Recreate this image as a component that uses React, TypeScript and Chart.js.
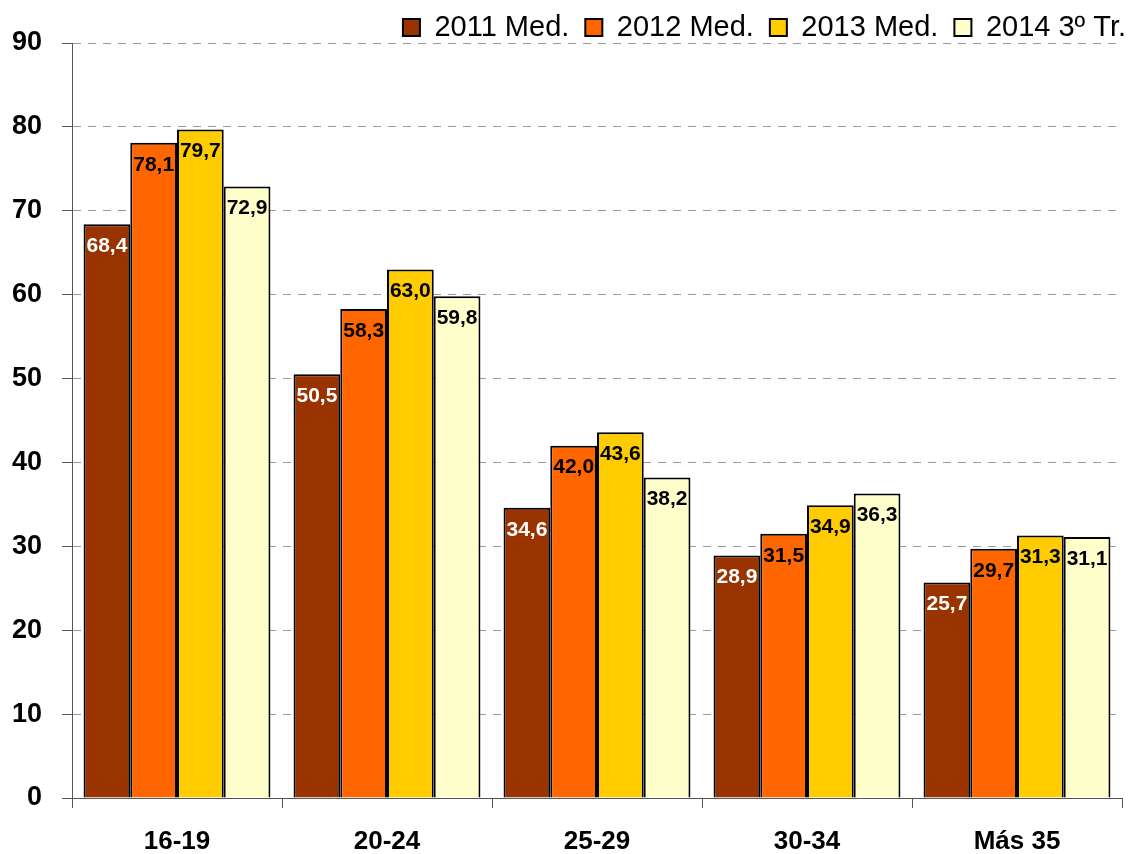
import React, { useEffect, useRef } from "react";
import { Chart, registerables } from "chart.js";

Chart.register(...registerables);

const categories = ["16-19", "20-24", "25-29", "30-34", "Más 35"];
const seriesNames = ["2011 Med.", "2012 Med.", "2013 Med.", "2014 3º Tr."];
const values2011 = [68.4, 50.5, 34.6, 28.9, 25.7];
const values2012 = [78.1, 58.3, 42.0, 31.5, 29.7];
const values2013 = [79.7, 63.0, 43.6, 34.9, 31.3];
const values2014 = [72.9, 59.8, 38.2, 36.3, 31.1];
const seriesColors = ["#993300", "#FF6600", "#FFCC00", "#FFFFCC"];
const labelColors = ["#FFFFFF", "#000000", "#000000", "#000000"];
const yTicks = [0, 10, 20, 30, 40, 50, 60, 70, 80, 90];

const FONT = "'Liberation Sans', Arial, sans-serif";

const legendShift = {
  id: "legendShift",
  afterLayout(chart: any) {
    const l = chart.legend;
    if (!l) return;
    const dx = 20;
    const dy = -3;
    l.left += dx;
    l.right += dx;
    l.top += dy;
    l.bottom += dy;
  },
};

const barLabels = {
  id: "barLabels",
  afterDatasetsDraw(chart: any) {
    const ctx = chart.ctx;
    ctx.save();
    ctx.font = `bold 21px ${FONT}`;
    ctx.textAlign = "center";
    ctx.textBaseline = "middle";
    chart.data.datasets.forEach((ds: any, di: number) => {
      const meta = chart.getDatasetMeta(di);
      meta.data.forEach((bar: any, i: number) => {
        const v = ds.data[i] as number;
        ctx.fillStyle = labelColors[di];
        ctx.fillText(v.toFixed(1).replace(".", ","), bar.x, bar.y + 22);
      });
    });
    ctx.restore();
  },
};

export default function App() {
  const ref = useRef<HTMLCanvasElement | null>(null);
  useEffect(() => {
    if (!ref.current) return;
    const all = [values2011, values2012, values2013, values2014];
    const chart = new Chart(ref.current, {
      type: "bar",
      data: {
        labels: categories,
        datasets: all.map((d, i) => ({
          label: seriesNames[i],
          data: d,
          backgroundColor: seriesColors[i],
          borderColor: "#000000",
          borderWidth: 2,
          categoryPercentage: 0.89,
          barPercentage: 1,
        })),
      },
      options: {
        responsive: false,
        animation: false,
        layout: { padding: { left: 0, right: 9, top: 0, bottom: 0 } },
        plugins: {
          tooltip: { enabled: false },
          legend: {
            position: "top",
            align: "end",
            maxHeight: 43,
            labels: {
              boxWidth: 17,
              boxHeight: 17,
              padding: 16,
              color: "#000000",
              font: { family: FONT, size: 29 },
            },
          },
        },
        scales: {
          x: {
            afterFit(scale: any) {
              scale.height = 56;
            },
            grid: {
              display: true,
              offset: true,
              drawOnChartArea: false,
              drawTicks: true,
              tickLength: 10,
              tickColor: "#555555",
              color: "#555555",
            },
            border: { display: true, color: "#555555", width: 1 },
            ticks: {
              color: "#000000",
              padding: 18,
              font: { family: FONT, size: 26, weight: "bold" },
            },
          },
          y: {
            min: 0,
            max: 90,
            afterFit(scale: any) {
              scale.width = 72;
            },
            afterBuildTicks(scale: any) {
              scale.ticks = yTicks.map((v) => ({ value: v }));
            },
            grid: {
              color: (c: any) => (c.tick && c.tick.value === 0 ? "rgba(0,0,0,0)" : "#9a9a9a"),
              tickBorderDash: [],
              tickColor: "#555555",
              tickLength: 10,
              lineWidth: 1,
            },
            border: { display: true, color: "#555555", width: 1, dash: [8, 7] },
            ticks: {
              color: "#000000",
              padding: 20,
              font: { family: FONT, size: 27, weight: "bold" },
            },
          },
        },
      },
      plugins: [legendShift, barLabels],
    });
    return () => chart.destroy();
  }, []);
  return (
    <div style={{ position: "fixed", left: 0, top: 0, width: 1131, height: 854, background: "#fff" }}>
      <canvas ref={ref} width={1131} height={854} style={{ width: 1131, height: 854, display: "block" }} />
    </div>
  );
}
